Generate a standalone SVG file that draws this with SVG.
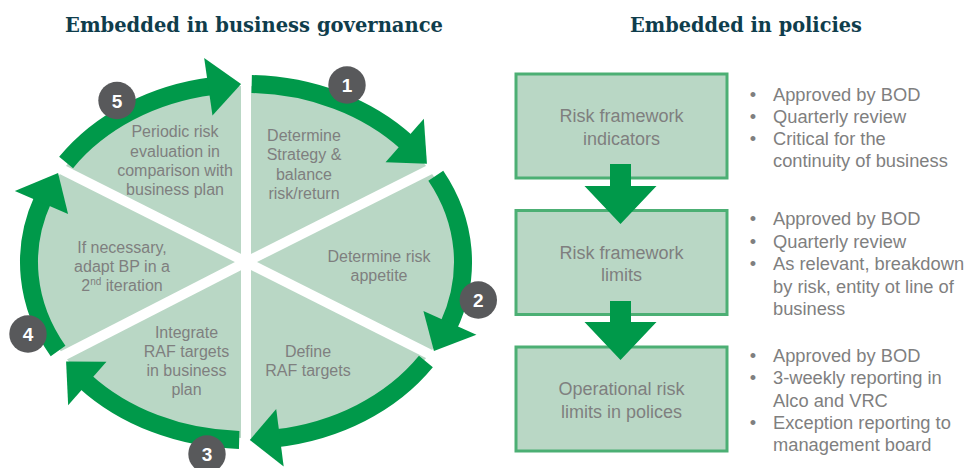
<svg xmlns="http://www.w3.org/2000/svg" width="965" height="468" viewBox="0 0 965 468">
<style>
.wedge{fill:#b9d7c5}
.div{stroke:#fff;stroke-width:10;stroke-linecap:butt}
.band{fill:none;stroke:#00994a;stroke-width:18}
.head{fill:#00994a}
.lbl{font-family:"Liberation Sans",Arial,sans-serif;font-size:16px;fill:#7f7f7f;text-anchor:middle}
.badge circle{fill:#58595b}
.badge text{font-family:"Liberation Sans",Arial,sans-serif;font-weight:bold;font-size:19px;fill:#fff;text-anchor:middle}
.box rect{fill:#b9d7c5;stroke:#4caf74;stroke-width:3}
.btxt{font-family:"Liberation Sans",Arial,sans-serif;font-size:18px;fill:#7f7f7f;text-anchor:middle}
.bul{font-family:"Liberation Sans",Arial,sans-serif;font-size:18.3px;fill:#7f7f7f}
.dot{text-anchor:middle}
.title{font-family:"DejaVu Serif","Liberation Serif",serif;font-weight:bold;font-size:21px;fill:#0f3d4c}
</style>

<text class="title" x="65" y="32" textLength="378" lengthAdjust="spacingAndGlyphs">Embedded in business governance</text>
<text class="title" x="630" y="32" textLength="232" lengthAdjust="spacingAndGlyphs">Embedded in policies</text>

<!-- cycle sectors -->
<g id="step1">
<path class="wedge" d="M246,262 L246,86 A215,176 0 0 1 429.32,170.04 Z"/>
<text class="lbl" x="304" y="140.5">Determine</text>
<text class="lbl" x="304" y="160">Strategy &amp;</text>
<text class="lbl" x="304" y="179.5">balance</text>
<text class="lbl" x="304" y="198.5">risk/return</text>
</g>
<g id="step2">
<path class="wedge" d="M246,262 L429.32,170.04 A215,176 0 0 1 429.32,353.96 Z"/>
<text class="lbl" x="379" y="262">Determine risk</text>
<text class="lbl" x="379" y="281">appetite</text>
</g>
<g id="step3">
<path class="wedge" d="M246,262 L429.32,353.96 A215,176 0 0 1 246,438 Z"/>
<text class="lbl" x="308" y="357">Define</text>
<text class="lbl" x="308" y="376">RAF targets</text>
</g>
<g id="step4">
<path class="wedge" d="M246,262 L246,438 A215,176 0 0 1 63.67,355.27 Z"/>
<text class="lbl" x="186.5" y="338">Integrate</text>
<text class="lbl" x="186.5" y="357">RAF targets</text>
<text class="lbl" x="186.5" y="376">in business</text>
<text class="lbl" x="186.5" y="395">plan</text>
</g>
<g id="step4b">
<path class="wedge" d="M246,262 L63.67,355.27 A215,176 0 0 1 62.68,170.04 Z"/>
<text class="lbl" x="122" y="252.5">If necessary,</text>
<text class="lbl" x="122" y="271.5">adapt BP in a</text>
<text class="lbl" x="122" y="290.5">2<tspan font-size="10" dy="-6">nd</tspan><tspan dy="6"> iteration</tspan></text>
</g>
<g id="step5">
<path class="wedge" d="M246,262 L62.68,170.04 A215,176 0 0 1 246,86 Z"/>
<text class="lbl" x="175" y="137">Periodic risk</text>
<text class="lbl" x="175" y="156.5">evaluation in</text>
<text class="lbl" x="175" y="175.5">comparison with</text>
<text class="lbl" x="175" y="194.5">business plan</text>
</g>

<g id="dividers">
<line class="div" x1="246" y1="262" x2="246" y2="60"/>
<line class="div" x1="246" y1="262" x2="449.5" y2="159.7"/>
<line class="div" x1="246" y1="262" x2="449.5" y2="364.3"/>
<line class="div" x1="246" y1="262" x2="246" y2="464"/>
<line class="div" x1="246" y1="262" x2="43.6" y2="365.8"/>
<line class="div" x1="246" y1="262" x2="42.5" y2="159.7"/>
</g>

<g id="connectors">
<g id="arc1"><path class="band" d="M251.68,84.06 A217,178 0 0 1 407.26,142.89"/><polygon class="head" points="423.85,118.83 426.95,163.75 385.55,162.37"/></g>
<g id="arc2"><path class="band" d="M435.79,175.7 A217,178 0 0 1 448.59,325.79"/><polygon class="head" points="476.42,334.64 433.93,351 423.4,311.12"/></g>
<g id="arc3"><path class="band" d="M425.9,361.54 A217,178 0 0 1 276.2,438.27"/><polygon class="head" points="283.69,466.57 249.79,439.97 276.21,409.05"/></g>
<g id="arc4"><path class="band" d="M239.18,439.91 A217,178 0 0 1 84.74,381.1"/><polygon class="head" points="68.15,405.17 66.1,361.54 106.45,361.63"/></g>
<g id="arc5"><path class="band" d="M58.07,351 A217,178 0 0 1 42.74,199.66"/><polygon class="head" points="14.83,191.08 58.07,173 68.07,214.08"/></g>
<g id="arc6"><path class="band" d="M66.1,162.46 A217,178 0 0 1 212.05,86.19"/><polygon class="head" points="204.17,58 241.08,84.05 212.47,115.4"/></g>
</g>

<g id="badges">
<g id="badge1" class="badge"><circle cx="347" cy="85" r="18.7"/><text x="347" y="92">1</text></g>
<g id="badge2" class="badge"><circle cx="478.3" cy="300" r="18.7"/><text x="478.3" y="307">2</text></g>
<g id="badge3" class="badge"><circle cx="207" cy="454" r="18.7"/><text x="207" y="461">3</text></g>
<g id="badge4" class="badge"><circle cx="28" cy="334" r="18.7"/><text x="28" y="341">4</text></g>
<g id="badge5" class="badge"><circle cx="117" cy="100.5" r="18.7"/><text x="117" y="107.5">5</text></g>
</g>

<!-- policy boxes -->
<g id="box1" class="box">
<rect x="516" y="74" width="211" height="104"/>
<text class="btxt" x="621.5" y="122">Risk framework</text>
<text class="btxt" x="621.5" y="145">indicators</text>
</g>
<g id="box2" class="box">
<rect x="516" y="210.5" width="211" height="104"/>
<text class="btxt" x="621.5" y="258.5">Risk framework</text>
<text class="btxt" x="621.5" y="280.5">limits</text>
</g>
<g id="box3" class="box">
<rect x="516" y="347" width="211" height="104"/>
<text class="btxt" x="621.5" y="395">Operational risk</text>
<text class="btxt" x="621.5" y="417.5">limits in polices</text>
</g>

<g id="box-connectors">
<polygon id="flow1" class="head" points="610,164 631,164 631,186 656.5,186 620.5,224 584.5,186 610,186"/>
<polygon id="flow2" class="head" points="610,301 631,301 631,322 656.5,322 620.5,360 584.5,322 610,322"/>
</g>

<g id="notes1" class="bul">
<text class="dot" x="753" y="100.5">•</text><text x="773" y="100.5">Approved by BOD</text>
<text class="dot" x="753" y="122.5">•</text><text x="773" y="122.5">Quarterly review</text>
<text class="dot" x="753" y="145">•</text><text x="773" y="145">Critical for the</text>
<text x="773" y="167">continuity of business</text>
</g>
<g id="notes2" class="bul">
<text class="dot" x="753" y="225">•</text><text x="773" y="225">Approved by BOD</text>
<text class="dot" x="753" y="247.5">•</text><text x="773" y="247.5">Quarterly review</text>
<text class="dot" x="753" y="270">•</text><text x="773" y="270">As relevant, breakdown</text>
<text x="773" y="292.5">by risk, entity ot line of</text>
<text x="773" y="314.5">business</text>
</g>
<g id="notes3" class="bul">
<text class="dot" x="753" y="361.5">•</text><text x="773" y="361.5">Approved by BOD</text>
<text class="dot" x="753" y="384">•</text><text x="773" y="384">3-weekly reporting in</text>
<text x="773" y="406.5">Alco and VRC</text>
<text class="dot" x="753" y="428.5">•</text><text x="773" y="428.5">Exception reporting to</text>
<text x="773" y="450.5">management board</text>
</g>
</svg>
